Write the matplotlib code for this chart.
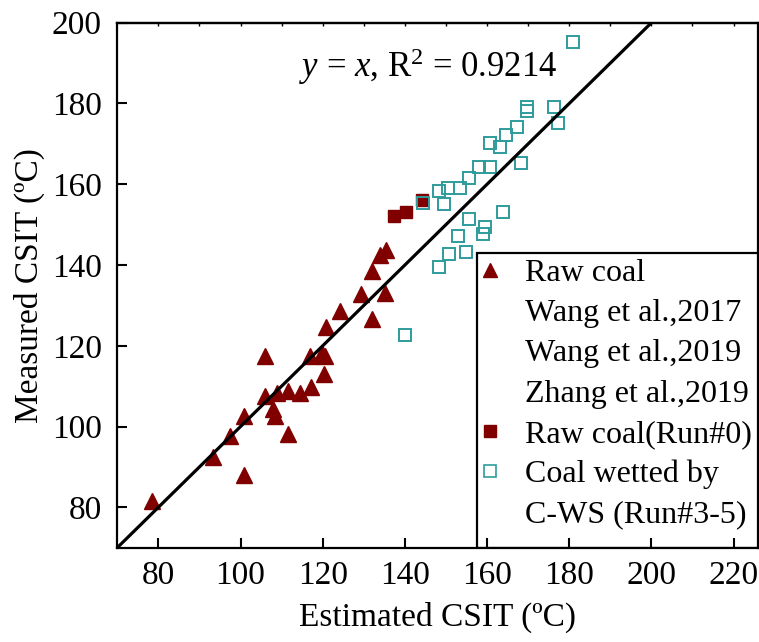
import numpy as np
import matplotlib
matplotlib.use('Agg')
import matplotlib.pyplot as plt
from matplotlib.lines import Line2D
from matplotlib.patches import Rectangle

plt.rcParams['font.family'] = 'Liberation Serif'
plt.rcParams['mathtext.fontset'] = 'custom'
plt.rcParams['mathtext.rm'] = 'Liberation Serif'
plt.rcParams['mathtext.it'] = 'Liberation Serif:italic'
plt.rcParams['font.size'] = 24
plt.rcParams['axes.linewidth'] = 1.6
plt.rcParams['xtick.direction'] = 'in'
plt.rcParams['ytick.direction'] = 'in'

# raw coal, literature data
tri_x = [78.4, 93.3, 97.4, 100.8, 100.8, 106.0, 108.0, 108.4, 111.6, 108.8,
         111.6, 114.5, 117.2, 106.0, 120.3, 116.8, 119.8, 120.5, 120.8, 124.2,
         129.4, 131.9, 135.1, 131.9, 134.0, 135.4]
tri_y = [81.5, 92.5, 97.6, 88.0, 102.7, 107.6, 104.3, 102.5, 98.2, 108.3,
         108.7, 108.4, 109.7, 117.5, 113.1, 117.5, 118.3, 117.5, 124.6, 128.5,
         132.7, 126.6, 133.1, 138.6, 142.6, 143.6]

# raw coal Run#0
run0_x = [137.4, 140.2, 144.1]
run0_y = [152.2, 153.2, 156.2]

# coal wetted by C-WS
cws_x = [140.0, 148.2, 150.8, 154.8, 153.0, 159.1, 159.5, 155.7, 163.8, 144.5,
         149.4, 148.2, 150.6, 153.3, 155.5, 158.1, 160.6, 168.2, 163.1, 160.7,
         164.6, 167.2, 177.2, 169.7, 169.7, 176.2, 181.0]
cws_y = [122.7, 139.4, 142.7, 143.2, 147.3, 147.7, 149.4, 151.3, 153.2, 155.4,
         155.2, 158.3, 159.1, 159.1, 161.5, 164.2, 164.2, 165.2, 169.2, 170.3,
         172.3, 174.2, 175.2, 178.1, 179.2, 179.2, 195.3]

legend_labels = ['Raw coal', 'Wang et al.,2017', 'Wang et al.,2019',
                 'Zhang et al.,2019', 'Raw coal(Run#0)', 'Coal wetted by',
                 'C-WS (Run#3-5)']

red = '#800000'
teal = '#2f9c9c'

fig = plt.figure(figsize=(7.59, 6.42), dpi=100)
ax = fig.add_axes([0.1545, 0.1469, 0.8445, 0.8177])

ax.plot([70, 230], [70, 230], color='black', lw=2.3, zorder=4)
ax.plot(tri_x, tri_y, '^', color=red, ms=11, ls='none', zorder=3)
ax.plot(run0_x, run0_y, 's', color=red, ms=9, ls='none', zorder=3)
ax.plot(cws_x, cws_y, 's', mfc='none', mec=teal, mew=1.4, ms=8.6, ls='none', zorder=3)

ax.set_xlim(70, 226)
ax.set_ylim(70, 200)
ax.set_xticks(np.arange(80, 221, 20))
ax.set_yticks(np.arange(80, 201, 20))
ax.tick_params(length=7, width=1.5, pad=11)
ax.tick_params(axis='x', pad=9)

top = ax.secondary_xaxis('top')
top.set_xticks(np.arange(80, 221, 10))
top.tick_params(direction='in', length=2.5, width=1, labeltop=False)

ax.set_xlabel('Estimated CSIT (ºC)', labelpad=8)
ax.set_ylabel('Measured CSIT (ºC)', labelpad=5)

ax.text(0.485, 0.897, r'$y$ = $x$, R$^{2}$ = 0.9214', transform=ax.transAxes,
        ha='center', va='baseline', fontsize=25)

blank = Line2D([], [], ls='none', marker='none')
handles = [Line2D([], [], ls='none', marker='^', color=red, ms=10),
           blank, blank, blank,
           Line2D([], [], ls='none', marker='s', color=red, ms=8),
           Line2D([], [], ls='none', marker='s', mfc='none', mec=teal, mew=1.2, ms=8),
           blank]
leg = ax.legend(handles, legend_labels, loc='upper left', bbox_to_anchor=(0.561, 0.561),
                borderaxespad=0, frameon=False, handlelength=0.5, handletextpad=0.84,
                labelspacing=0.34, borderpad=0.17, fontsize=23)
ax.add_patch(Rectangle((0.561, 0), 0.45, 0.561, transform=ax.transAxes, fill=False,
                       edgecolor='black', lw=1.6, clip_on=True, zorder=5))

plt.savefig('out.png', dpi=100)
plt.close()
